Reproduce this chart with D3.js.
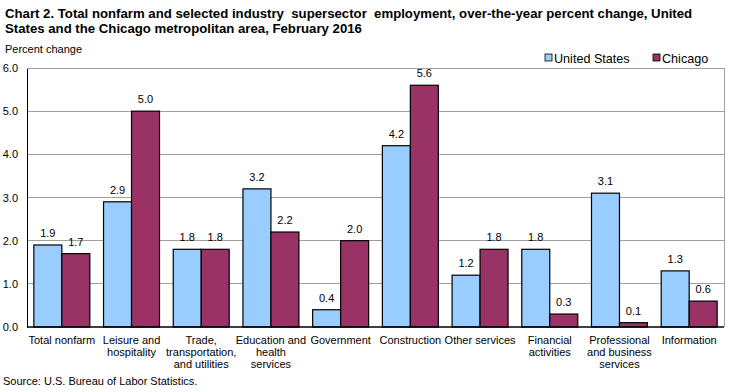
<!DOCTYPE html>
<html><head><meta charset="utf-8">
<script src="https://cdn.jsdelivr.net/npm/d3@7"></script>
<style>body{margin:0;background:#fff;} svg{display:block;font-family:Arial,"Liberation Sans",sans-serif;}</style>
</head><body>
<svg id="c" width="737" height="392"></svg>
<script>
const categories = [["Total nonfarm"],["Leisure and","hospitality"],["Trade,","transportation,","and utilities"],["Education and","health","services"],["Government"],["Construction"],["Other services"],["Financial","activities"],["Professional","and business","services"],["Information"]];
const seriesNames = ["United States","Chicago"];
const usValues = [1.9,2.9,1.8,3.2,0.4,4.2,1.2,1.8,3.1,1.3];
const chicagoValues = [1.7,5.0,1.8,2.2,2.0,5.6,1.8,0.3,0.1,0.6];
const yTicks = [0,1,2,3,4,5,6];
const colors = ["#99CCFF","#993366"];

const svg = d3.select("#c");
const L=27, R=724, T=68, B=327;
const keys = categories.map((c,i)=>i);
const x = d3.scaleBand().domain(keys).range([L,R]).paddingInner(0.197).paddingOuter(0.098);
const x1 = d3.scaleBand().domain([0,1]).range([0,x.bandwidth()]);
const y = d3.scaleLinear().domain([0,6]).range([B,T]);

// title
const title = svg.append("text").attr("x",5).attr("y",18).attr("font-weight","bold").attr("font-size","13.2px").attr("fill","#000").style("white-space","pre");
title.append("tspan").attr("x",5).attr("y",18).text("Chart 2. Total nonfarm and selected industry  supersector  employment, over-the-year percent change, United");
title.append("tspan").attr("x",5).attr("y",33).text("States and the Chicago metropolitan area, February 2016");
svg.append("text").attr("x",5).attr("y",53).attr("font-size","11px").text("Percent change");

// grid
svg.append("g").selectAll("line").data(yTicks.filter(d=>d>0)).join("line")
  .attr("x1",L).attr("x2",R).attr("y1",d=>y(d)).attr("y2",d=>y(d)).attr("stroke","#a0a0a0").attr("stroke-width",1).attr("shape-rendering","crispEdges");
svg.append("line").attr("x1",R).attr("x2",R).attr("y1",T).attr("y2",B).attr("stroke","#a0a0a0").attr("shape-rendering","crispEdges");

// y axis
const ya = d3.axisLeft(y).tickValues(yTicks).tickFormat(d3.format(".1f")).tickSize(0).tickPadding(9);
const yg = svg.append("g").attr("transform",`translate(${L},0)`).call(ya);
yg.select(".domain").attr("stroke","#000").attr("shape-rendering","crispEdges");
yg.selectAll("text").attr("font-size","11px").attr("font-family","Arial,'Liberation Sans',sans-serif").attr("fill","#000");

// bars
const data = keys.map(i=>[usValues[i],chicagoValues[i]]);
const g = svg.append("g").selectAll("g").data(data).join("g").attr("transform",(d,i)=>`translate(${x(i)},0)`);
g.selectAll("rect").data(d=>d).join("rect")
  .attr("x",(d,j)=>x1(j)).attr("width",x1.bandwidth())
  .attr("y",d=>y(d)).attr("height",d=>y(0)-y(d))
  .attr("fill",(d,j)=>colors[j]).attr("stroke","#000").attr("stroke-width",1.2);
g.selectAll("text").data(d=>d).join("text")
  .attr("x",(d,j)=>x1(j)+x1.bandwidth()/2).attr("y",d=>y(d)-8)
  .attr("text-anchor","middle").attr("font-size","11px").text(d=>d3.format(".1f")(d));

// x axis
svg.append("line").attr("x1",L).attr("x2",R).attr("y1",B).attr("y2",B).attr("stroke","#000").attr("stroke-width",1.5);
const xa = svg.append("g");
categories.forEach((lines,i)=>{
  const t = xa.append("text").attr("text-anchor","middle").attr("font-size","11px");
  lines.forEach((ln,k)=>t.append("tspan").attr("x",x(i)+x.bandwidth()/2).attr("y",344+k*12).text(ln));
});

// legend
const leg = [{n:seriesNames[0],x:545,c:colors[0]},{n:seriesNames[1],x:653,c:colors[1]}];
leg.forEach(l=>{
  svg.append("rect").attr("x",l.x).attr("y",54).attr("width",7).attr("height",7).attr("fill",l.c).attr("stroke","#000").attr("stroke-width",0.8);
  svg.append("text").attr("x",l.x+9).attr("y",62.5).attr("font-size","12.6px").text(l.n);
});

svg.append("text").attr("x",3).attr("y",385).attr("font-size","11px").text("Source: U.S. Bureau of Labor Statistics.");
</script>
</body></html>
